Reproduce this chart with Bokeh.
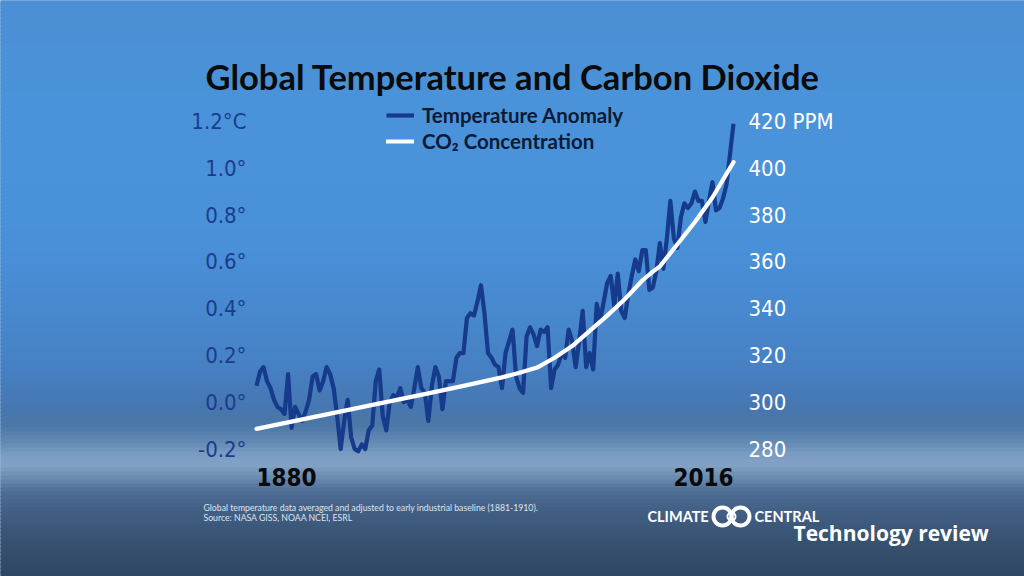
from bokeh.plotting import figure
from bokeh.models import (Range1d, LinearAxis, FixedTicker, Legend, LegendItem,
                          Label, BoxAnnotation)
from bokeh.embed import file_html
from bokeh.resources import INLINE

# ---------------- data ----------------
years = list(range(1880, 2017))
temp_anomaly = [
    0.07, 0.13, 0.15, 0.09, 0.06, 0.01, -0.02, -0.03, -0.05, 0.12,
    -0.11, -0.02, -0.05, -0.08, -0.04, 0.01, 0.11, 0.12, 0.05, 0.09,
    0.15, 0.12, 0.06, -0.06, -0.20, -0.08, 0.01, -0.15, -0.20, -0.21,
    -0.18, -0.20, -0.12, -0.10, 0.09, 0.14, -0.06, -0.12, 0.00, 0.03,
    0.02, 0.06, 0.00, 0.01, -0.02, 0.06, 0.15, 0.06, 0.04, -0.08,
    0.07, 0.15, 0.11, -0.03, 0.09, 0.09, 0.09, 0.19, 0.21, 0.21,
    0.36, 0.38, 0.37, 0.43, 0.50, 0.38, 0.21, 0.19, 0.16, 0.15,
    0.06, 0.21, 0.26, 0.31, 0.11, 0.06, 0.04, 0.28, 0.32, 0.29,
    0.24, 0.31, 0.30, 0.32, 0.06, 0.14, 0.16, 0.21, 0.19, 0.31,
    0.26, 0.15, 0.26, 0.39, 0.15, 0.21, 0.14, 0.42, 0.35, 0.43,
    0.51, 0.54, 0.41, 0.55, 0.39, 0.36, 0.46, 0.54, 0.61, 0.56,
    0.65, 0.65, 0.48, 0.49, 0.56, 0.68, 0.57, 0.70, 0.86, 0.70,
    0.66, 0.79, 0.85, 0.83, 0.85, 0.90, 0.86, 0.86, 0.77, 0.86,
    0.94, 0.82, 0.83, 0.87, 0.93, 1.06, 1.19,
]
co2_years = [1880, 1890, 1900, 1910, 1920, 1930, 1940, 1950, 1955, 1960,
             1965, 1970, 1975, 1980, 1985, 1990, 1993, 1995, 2000, 2005, 2010, 2016]
co2_ppm = [288.6, 291.7, 294.8, 297.9, 301.0, 304.1, 307.3, 310.6, 312.6, 314.8,
           319.0, 324.0, 330.5, 337.0, 344.0, 352.0, 355.8, 358.0, 367.5, 377.0, 387.5, 402.6]

temp_ticks = [-0.2, 0.0, 0.2, 0.4, 0.6, 0.8, 1.0, 1.2]
temp_tick_labels = ["-0.2°", "0.0°", "0.2°", "0.4°", "0.6°", "0.8°", "1.0°", "1.2°C"]
ppm_ticks = [280, 300, 320, 340, 360, 380, 400, 420]
ppm_tick_labels = ["280", "300", "320", "340", "360", "380", "400", "420 PPM"]
year_ticks = [1880, 2016]
year_tick_labels = ["1880", "2016"]

title_text = "Global Temperature and Carbon Dioxide"
legend_labels = ["Temperature Anomaly", "CO₂ Concentration"]
note_lines = ["Global temperature data averaged and adjusted to early industrial baseline (1881-1910).",
              "Source: NASA GISS, NOAA NCEI, ESRL"]
brand_text = "Technology review"

# ---------------- layout (page pixels; the frame fills the whole canvas) ----------------
W, H = 1024, 576
X_START_PX, X_END_PX = 256, 733              # where 1880 and 2016 fall
ZERO_PX, PX_PER_DEG = 401.7, 234.0
px_per_year = (X_END_PX - X_START_PX) / (2016 - 1880)


def x_at(px):
    return 1880 + (px - X_START_PX) / px_per_year


def t_at(py):
    return (ZERO_PX - py) / PX_PER_DEG


p = figure(width=W, height=H, output_backend="svg", toolbar_location=None, title=None,
           x_axis_location=None, y_axis_location=None, min_border=0,
           x_range=Range1d(x_at(0), x_at(W)), y_range=Range1d(t_at(H), t_at(0)))
p.extra_y_ranges = {"ppm": Range1d(300 + 100 * t_at(H), 300 + 100 * t_at(0))}
p.outline_line_color = None
p.grid.visible = False
p.background_fill_color = "#4787cc"
p.border_fill_color = "#4787cc"

# ---------------- background gradient ----------------
stops = [(0, "#4b8fd4"), (120, "#4a93da"), (250, "#4990d8"), (320, "#4787cd"),
         (370, "#4680c2"), (405, "#4677b2"), (425, "#4b77a6"), (440, "#5e86b2"),
         (455, "#7a9cc2"), (465, "#83a3c6"), (478, "#6b8cb1"), (492, "#4e6d93"),
         (515, "#405d82"), (545, "#36516f"), (580, "#2e4562")]


def hex2rgb(h):
    return tuple(int(h[i:i + 2], 16) for i in (1, 3, 5))


def color_at(y):
    for (ya, ca), (yb, cb) in zip(stops[:-1], stops[1:]):
        if ya <= y <= yb:
            t = (y - ya) / (yb - ya)
            a, b = hex2rgb(ca), hex2rgb(cb)
            return "#%02x%02x%02x" % tuple(round(a[i] + (b[i] - a[i]) * t) for i in range(3))
    return stops[-1][1]


STEP = 4
for yy in range(0, H, STEP):
    p.add_layout(BoxAnnotation(left=-10, right=W + 10, top=H - yy + 1, bottom=H - (yy + STEP) - 1,
                               left_units="screen", right_units="screen",
                               top_units="screen", bottom_units="screen",
                               fill_color=color_at(yy + STEP / 2), fill_alpha=1.0,
                               line_alpha=0, level="underlay"))

# ---------------- data lines ----------------
r_temp = p.line(years, temp_anomaly, line_color="#163a8c", line_width=4.2, line_join="round")
r_co2 = p.line(co2_years, co2_ppm, y_range_name="ppm", line_color="white", line_width=4.2,
               line_join="round", line_cap="round")

# ---------------- axes (drawn at fixed positions beside the data) ----------------
COND = "DejaVu Sans Condensed"
ly = LinearAxis(ticker=FixedTicker(ticks=temp_ticks), fixed_location=x_at(250))
ly.major_label_overrides = dict(zip(temp_ticks, temp_tick_labels))
ry = LinearAxis(y_range_name="ppm", ticker=FixedTicker(ticks=ppm_ticks), fixed_location=x_at(740))
ry.major_label_overrides = dict(zip(ppm_ticks, ppm_tick_labels))
for ax in (ly, ry):
    ax.axis_line_color = None
    ax.major_tick_line_color = None
    ax.minor_tick_line_color = None
    ax.major_tick_out = 0
    ax.major_tick_in = 0
    ax.major_label_text_font = COND
    ax.major_label_text_font_size = "22px"
ly.major_label_text_color = "#1b3c8c"
ly.major_label_standoff = 4
ry.major_label_text_color = "white"
ry.major_label_standoff = 8
p.add_layout(ly, "left")
p.add_layout(ry, "right")

# year labels under the first and last data points
for yr, txt, align in zip(year_ticks, year_tick_labels, ["left", "right"]):
    p.add_layout(Label(x=yr, y=t_at(476), text=txt, text_align=align,
                       text_baseline="middle", text_font=COND, text_font_style="bold",
                       text_font_size="24px", text_color="#0a0a0a"))


# ---------------- texts in screen units ----------------
def add_label(text, X, Y, size, color, font="Lato", style="normal", align="left", baseline="middle"):
    p.add_layout(Label(x=X, y=H - Y, x_units="screen", y_units="screen", text=text,
                       text_font=font, text_font_size=f"{size}px", text_font_style=style,
                       text_color=color, text_align=align, text_baseline=baseline))


add_label(title_text, 205, 76, 34.5, "#0b0b0b", style="bold", baseline="middle")
add_label(note_lines[0], 203, 507, 8.7, "#dfe4ec")
add_label(note_lines[1], 203, 517, 8.7, "#dfe4ec")
add_label("CLIMATE", 647, 516, 14.5, "white", style="bold")
add_label("CENTRAL", 754, 516, 14.5, "white", style="bold")
add_label(brand_text, 793, 532, 21, "white", font="Open Sans", style="bold")

for cx, d, lw in [(722, 18, 4), (740, 18, 4), (731, 8, 2)]:
    p.add_layout(BoxAnnotation(left=cx - d / 2, right=cx + d / 2,
                               top=H - (516 - d / 2), bottom=H - (516 + d / 2),
                               left_units="screen", right_units="screen",
                               top_units="screen", bottom_units="screen",
                               fill_alpha=0, line_color="white", line_alpha=1.0, line_width=lw,
                               border_radius=d // 2, level="annotation"))

# ---------------- legend ----------------
legend = Legend(items=[LegendItem(label=legend_labels[0], renderers=[r_temp]),
                       LegendItem(label=legend_labels[1], renderers=[r_co2])],
                location=(386, H - 102 - 51))
legend.background_fill_alpha = 0
legend.border_line_alpha = 0
legend.padding = 0
legend.margin = 0
legend.spacing = 2
legend.glyph_width = 28
legend.glyph_height = 20
legend.label_standoff = 8
legend.label_text_font = "Lato"
legend.label_text_font_style = "bold"
legend.label_text_font_size = "20.5px"
legend.label_text_color = "#0d1a33"
p.add_layout(legend)

open("out.html", "w").write(file_html(p, INLINE))
